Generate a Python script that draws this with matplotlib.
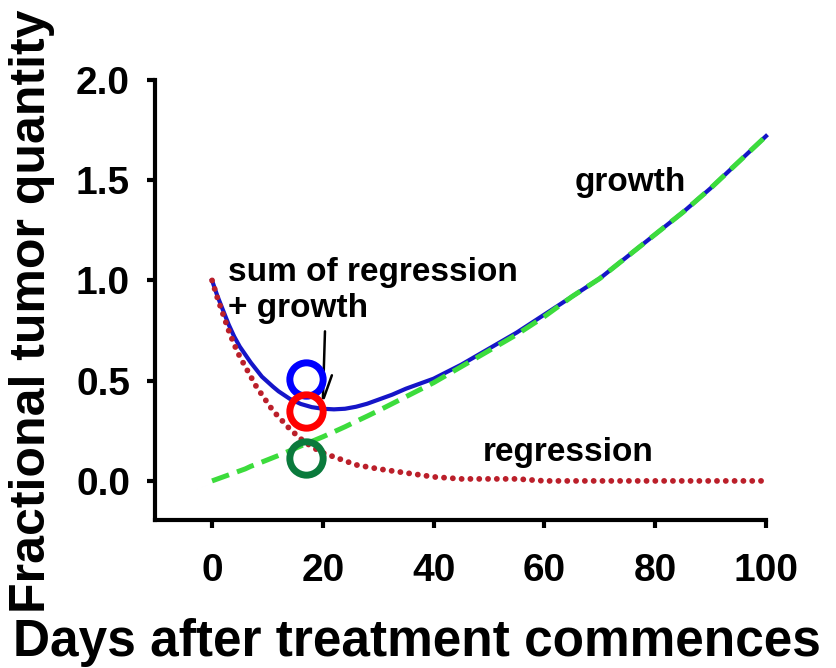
import numpy as np
import matplotlib.pyplot as plt

plt.rcParams['font.family'] = ['Liberation Sans', 'DejaVu Sans']
plt.rcParams['font.weight'] = 'bold'

# values
days = [0, 1, 2, 3, 4, 5, 6, 7, 8, 9, 10, 11, 12, 14, 16, 18, 20, 22, 24,
        26, 28, 30, 32.5, 35, 37.5, 40, 45, 50, 55, 60, 65, 70, 75, 80, 85,
        90, 95, 100]
regression = [1.00, 0.91, 0.83, 0.75, 0.68, 0.62, 0.57, 0.52, 0.47, 0.43,
              0.39, 0.35, 0.32, 0.26, 0.21, 0.17, 0.14, 0.12, 0.10,
              0.08, 0.07, 0.06, 0.05, 0.04, 0.03, 0.02, 0.01, 0.01, 0.01,
              0.00, 0.00, 0.00, 0.00, 0.00, 0.00, 0.00, 0.00, 0.00]
growth = [0.00, 0.01, 0.02, 0.03, 0.04, 0.05, 0.06, 0.073, 0.083, 0.094,
          0.105, 0.116, 0.127, 0.15, 0.174, 0.197, 0.22, 0.245, 0.27,
          0.297, 0.323, 0.35, 0.385, 0.42, 0.455, 0.49, 0.57, 0.65, 0.73,
          0.82, 0.92, 1.01, 1.12, 1.23, 1.34, 1.46, 1.59, 1.72]
total = [1.00, 0.92, 0.85, 0.78, 0.72, 0.67, 0.63, 0.59, 0.555, 0.52,
         0.495, 0.47, 0.447, 0.41, 0.384, 0.368, 0.36, 0.357, 0.36,
         0.37, 0.385, 0.405, 0.43, 0.46, 0.485, 0.51, 0.58, 0.66, 0.74,
         0.83, 0.92, 1.01, 1.12, 1.23, 1.34, 1.46, 1.59, 1.72]

marker_day = [17, 17, 17]
marker_val = [0.51, 0.35, 0.115]
marker_col = ['#0000ff', '#ff0000', '#0a7a3c']

xticks = [0, 20, 40, 60, 80, 100]
yticks = [0.0, 0.5, 1.0, 1.5, 2.0]

fig = plt.figure(figsize=(8.36, 6.68), dpi=100)
ax = fig.add_axes([155 / 836, 148 / 668, (766 - 155) / 836, (520 - 80) / 668])

ax.plot(days, total, color='#1515c8', lw=3, zorder=2, clip_on=False,
        solid_joinstyle='round')
ax.plot(days, growth, color='#3cdc3c', lw=3.6, ls=(0, (3.6, 1.7)),
        zorder=3, clip_on=False)
ax.plot(days, regression, color='#bb1f2a', lw=4.2, ls=(0, (0.01, 1.5)),
        dash_capstyle='round', zorder=4, clip_on=False)

for d, v, c in zip(marker_day, marker_val, marker_col):
    ax.plot(d, v, 'o', ms=24, mfc='none', mec=c, mew=5, zorder=5)

ax.text(2.9, 1.04, 'sum of regression', fontsize=24, va='center')
ax.text(2.9, 0.86, '+ growth', fontsize=24, va='center')
ax.text(65.5, 1.49, 'growth', fontsize=24, va='center')
ax.text(48.9, 0.14, 'regression', fontsize=24, va='center')
ax.annotate('', xy=(20.0, 0.40), xytext=(20.4, 0.76),
            arrowprops=dict(arrowstyle='-', color='black', lw=1.8))
ax.annotate('', xy=(20.0, 0.40), xytext=(21.8, 0.54),
            arrowprops=dict(arrowstyle='-', color='black', lw=1.8))

ax.set_xlim(-10.3, 100)
ax.set_ylim(-0.195, 2.0)
ax.set_xticks(xticks)
ax.set_yticks(yticks)
ax.set_yticklabels(['%.1f' % t for t in yticks])
ax.spines['top'].set_visible(False)
ax.spines['right'].set_visible(False)
for s in ['left', 'bottom']:
    ax.spines[s].set_linewidth(3)
ax.tick_params(width=3, length=6, labelsize=28)
ax.tick_params(axis='x', pad=18)
ax.tick_params(axis='y', pad=12)

ax.set_xlabel('Days after treatment commences', fontsize=37, fontweight='bold')
ax.set_ylabel('Fractional tumor quantity', fontsize=36, fontweight='bold')
ax.xaxis.set_label_coords(0.428, -0.222)
ax.yaxis.set_label_coords(-0.164, 0.475)

fig.savefig('out.png', dpi=100)
